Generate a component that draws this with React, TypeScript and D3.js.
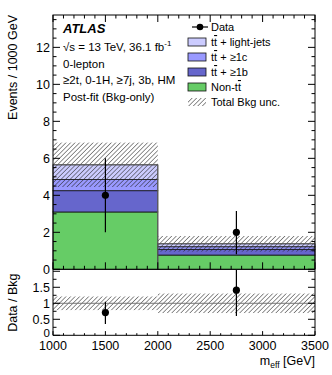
import * as d3 from 'd3';

// bin edges in m_eff [GeV]
const binEdges = [1000, 2000, 3500];

// stacked background contributions per bin (events / 1000 GeV)
const nonTT = [3.1, 0.77];
const tt1b = [1.15, 0.31];
const tt1c = [0.6, 0.14];
const ttLight = [0.8, 0.16];

// total background uncertainty per bin
const bkgUnc = [1.2, 0.42];

// data points
const dataX = [1500, 2750];
const dataY = [4, 2];
const dataLo = [2, 0.82];
const dataHi = [6, 3.15];

// ratio panel
const ratioY = [0.71, 1.41];
const ratioLo = [0.35, 0.6];
const ratioHi = [1.05, 2.2];

const mainTicks = [0, 2, 4, 6, 8, 10, 12];
const ratioTicks = [0, 0.5, 1, 1.5];
const xTicks = [1000, 1500, 2000, 2500, 3000, 3500];

const FONT = "'Liberation Sans', Arial, sans-serif";

const App = () => {
  const left = 53;
  const right = 315;
  const mainTop = 15;
  const mainBottom = 269.3;
  const ratioTop = 270;
  const ratioBottom = 335.3;

  const x = d3.scaleLinear().domain([1000, 3500]).range([left, right]);
  const y = d3.scaleLinear().domain([0, 13.75]).range([mainBottom, mainTop]);
  const yr = d3.scaleLinear().domain([0, 2.04]).range([ratioBottom, ratioTop]);

  const layers = [
    { key: 'nonTT', vals: nonTT, color: '#66cc66' },
    { key: 'tt1b', vals: tt1b, color: '#6666cc' },
    { key: 'tt1c', vals: tt1c, color: '#9999ff' },
    { key: 'ttLight', vals: ttLight, color: '#ccccff' },
  ];

  const bins = binEdges.slice(0, -1).map((lo, i) => {
    let cum = 0;
    const parts = layers.map((l) => {
      const y0 = cum;
      cum += l.vals[i];
      return { ...l, y0, y1: cum };
    });
    return { lo, hi: binEdges[i + 1], parts, total: cum };
  });

  const xMinor = d3.range(1000, 3501, 100);
  const yMinor = d3.range(0, 13.75, 0.5);
  const rMinor = d3.range(0, 2.01, 0.25);

  const tt = (rest: string) => (
    <>
      t<tspan style={{ textDecoration: 'overline' }}>t</tspan>{rest}
    </>
  );

  const legendRows = [
    { label: tt(' + light-jets'), color: '#ccccff' },
    { label: tt(' + \u22651c'), color: '#9999ff' },
    { label: tt(' + \u22651b'), color: '#6666cc' },
    { label: <>Non-t<tspan style={{ textDecoration: 'overline' }}>t</tspan></>, color: '#66cc66' },
  ];

  return (
    <svg width={332} height={375} style={{ position: 'absolute', left: 0, top: 0, fontFamily: FONT }}>
      <defs>
        <pattern id="hatch" patternUnits="userSpaceOnUse" width={3.2} height={3.2} patternTransform="rotate(45)">
          <line x1={0} y1={0} x2={0} y2={3.2} stroke="#222" strokeWidth={1} />
        </pattern>
        <clipPath id="ratioClip">
          <rect x={left} y={ratioTop} width={right - left} height={ratioBottom - ratioTop} />
        </clipPath>
      </defs>
      <rect width={332} height={375} fill="#fff" />

      {/* stacked histogram */}
      {bins.map((b, i) => (
        <g key={i}>
          {b.parts.map((p) => (
            <rect key={p.key} x={x(b.lo)} width={x(b.hi) - x(b.lo)} y={y(p.y1)} height={y(p.y0) - y(p.y1)}
              fill={p.color} stroke="#111" strokeWidth={0.8} />
          ))}
          <rect x={x(b.lo)} width={x(b.hi) - x(b.lo)} y={y(b.total + bkgUnc[i])}
            height={y(b.total - bkgUnc[i]) - y(b.total + bkgUnc[i])} fill="url(#hatch)" />
        </g>
      ))}
      <path d={`M${x(1000)},${y(bins[0].total)}H${x(2000)}V${y(bins[1].total)}H${x(3500)}`} fill="none" stroke="#666" strokeWidth={1} />
      <line x1={x(2000)} x2={x(2000)} y1={y(bins[1].total)} y2={mainBottom} stroke="#666" strokeWidth={1} />

      {/* data */}
      {dataX.map((dx, i) => (
        <g key={i}>
          <line x1={x(dx)} x2={x(dx)} y1={y(dataLo[i])} y2={y(dataHi[i])} stroke="#000" strokeWidth={1.2} />
          <circle cx={x(dx)} cy={y(dataY[i])} r={3.6} fill="#000" />
        </g>
      ))}

      {/* main frame + ticks */}
      <rect x={left} y={mainTop} width={right - left} height={mainBottom - mainTop} fill="none" stroke="#000" strokeWidth={1} />
      {yMinor.map((v) => {
        const major = v % 2 === 0;
        const len = major ? 7 : 3.5;
        return (
          <g key={v}>
            <line x1={left} x2={left + len} y1={y(v)} y2={y(v)} stroke="#000" />
            <line x1={right} x2={right - len} y1={y(v)} y2={y(v)} stroke="#000" />
          </g>
        );
      })}
      {xMinor.map((v) => {
        const major = v % 500 === 0;
        const len = major ? 7 : 3.5;
        return (
          <g key={v}>
            <line x1={x(v)} x2={x(v)} y1={mainBottom} y2={mainBottom - len} stroke="#000" />
            <line x1={x(v)} x2={x(v)} y1={mainTop} y2={mainTop + len} stroke="#000" />
            <line x1={x(v)} x2={x(v)} y1={ratioBottom} y2={ratioBottom - len * 0.6} stroke="#000" />
          </g>
        );
      })}
      {mainTicks.map((v) => (
        <text key={v} x={left - 3} y={y(v) + 4.5} textAnchor="end" fontSize={12.5} fill="#000">{v}</text>
      ))}
      <text transform={`translate(17,${mainTop}) rotate(-90)`} textAnchor="end" fontSize={12.5}>Events / 1000 GeV</text>

      {/* text block */}
      <text x={63} y={33} fontSize={13} fontWeight="bold" fontStyle="italic">ATLAS</text>
      <text x={63} y={51} fontSize={11.5}>{'\u221As = 13 TeV, 36.1 fb'}<tspan dy={-5} fontSize={8}>-1</tspan></text>
      <text x={63} y={67.5} fontSize={11.5}>0-lepton</text>
      <text x={63} y={84} fontSize={11.5}>{'\u22652t, 0-1H, \u22657j, 3b, HM'}</text>
      <text x={63} y={101} fontSize={11.5}>Post-fit (Bkg-only)</text>

      {/* legend */}
      <g fontSize={11}>
        <line x1={192} x2={208} y1={27} y2={27} stroke="#000" strokeWidth={1.2} />
        <circle cx={200} cy={27} r={3.3} fill="#000" />
        <text x={211} y={31}>Data</text>
        {legendRows.map((r, i) => (
          <g key={i}>
            <rect x={188} y={38 + i * 15} width={18} height={8} fill={r.color} stroke="#111" strokeWidth={0.8} />
            <text x={211} y={46 + i * 15}>{r.label}</text>
          </g>
        ))}
        <rect x={188} y={98} width={18} height={8} fill="url(#hatch)" />
        <text x={211} y={106}>Total Bkg unc.</text>
      </g>

      {/* ratio panel */}
      <g clipPath="url(#ratioClip)">
        {bins.map((b, i) => {
          const rel = bkgUnc[i] / b.total;
          return (
            <rect key={i} x={x(b.lo)} width={x(b.hi) - x(b.lo)} y={yr(1 + rel)} height={yr(1 - rel) - yr(1 + rel)} fill="url(#hatch)" />
          );
        })}
        <line x1={left} x2={right} y1={yr(1)} y2={yr(1)} stroke="#777" strokeWidth={1} />
        {dataX.map((dx, i) => (
          <g key={i}>
            <line x1={x(dx)} x2={x(dx)} y1={yr(ratioLo[i])} y2={yr(ratioHi[i])} stroke="#000" strokeWidth={1.2} />
            <circle cx={x(dx)} cy={yr(ratioY[i])} r={3.6} fill="#000" />
          </g>
        ))}
      </g>
      <line x1={left} x2={left} y1={ratioTop} y2={ratioBottom} stroke="#000" />
      <line x1={right} x2={right} y1={ratioTop} y2={ratioBottom} stroke="#000" />
      <line x1={left} x2={right} y1={ratioBottom} y2={ratioBottom} stroke="#000" />
      {rMinor.map((v) => {
        const major = v % 0.5 === 0;
        const len = major ? 7 : 3.5;
        return (
          <g key={v}>
            <line x1={left} x2={left + len} y1={yr(v)} y2={yr(v)} stroke="#000" />
            <line x1={right} x2={right - len} y1={yr(v)} y2={yr(v)} stroke="#000" />
          </g>
        );
      })}
      {ratioTicks.map((v) => (
        <text key={v} x={left - 3} y={yr(v) + (v === 0 ? 1.5 : 4.5)} textAnchor="end" fontSize={v === 0 ? 11.5 : 12.5}>{v}</text>
      ))}
      <text transform={`translate(17,${(ratioTop + ratioBottom) / 2}) rotate(-90)`} textAnchor="middle" fontSize={12.5}>Data / Bkg</text>

      {xTicks.map((v) => (
        <text key={v} x={x(v)} y={ratioBottom + 15} textAnchor="middle" fontSize={12.5}>{v}</text>
      ))}
      <text x={right} y={365} textAnchor="end" fontSize={12.5}>
        m<tspan dy={3} fontSize={8.5}>eff</tspan><tspan dy={-3}> [GeV]</tspan>
      </text>
    </svg>
  );
};

export default App;
